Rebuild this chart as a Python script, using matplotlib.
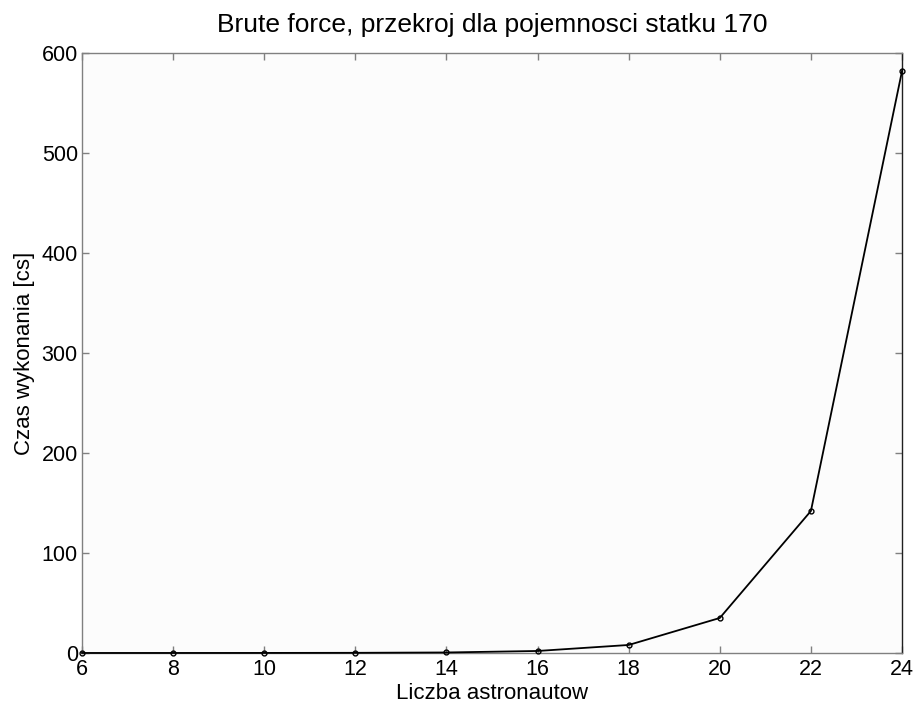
import matplotlib
matplotlib.use('Agg')
import matplotlib.pyplot as plt
import numpy as np

plt.rcParams['font.family'] = ['Liberation Sans', 'DejaVu Sans']

# liczba astronautow vs czas wykonania [cs]
astronauci = [6, 8, 10, 12, 14, 16, 18, 20, 22, 24]
czas = [0.01, 0.02, 0.05, 0.15, 0.5, 2, 8, 35, 142, 582]

xticks = [6, 8, 10, 12, 14, 16, 18, 20, 22, 24]
yticks = [0, 100, 200, 300, 400, 500, 600]

fig = plt.figure(figsize=(9.14, 7.05), dpi=100)
ax = fig.add_axes([0.0897, 0.0738, 0.8972, 0.851])
ax.set_facecolor('#fcfcfc')

ax.plot(astronauci, czas, color='black', linewidth=1.3, marker='o',
        markersize=3.5, markerfacecolor='none', markeredgewidth=1.0,
        clip_on=False, zorder=3)

ax.set_xlim(6, 24)
ax.set_ylim(0, 600)
ax.set_xticks(xticks)
ax.set_yticks(yticks)

for side in ['left', 'bottom', 'top']:
    ax.spines[side].set_color('#808080')
ax.spines['right'].set_color('#202020')
for s in ax.spines.values():
    s.set_linewidth(1.0)

ax.tick_params(direction='in', length=5, width=1, color='#808080',
               top=True, right=True, labelsize=15.5)
ax.tick_params(axis='x', pad=4)
ax.tick_params(axis='y', pad=3)

ax.set_title('Brute force, przekroj dla pojemnosci statku 170', fontsize=19, pad=15)
ax.set_xlabel('Liczba astronautow', fontsize=16)
ax.xaxis.set_label_coords(0.5, -0.05)
ax.set_ylabel('Czas wykonania [cs]', fontsize=16, labelpad=5)

fig.savefig('out.png', dpi=100, facecolor='white')
